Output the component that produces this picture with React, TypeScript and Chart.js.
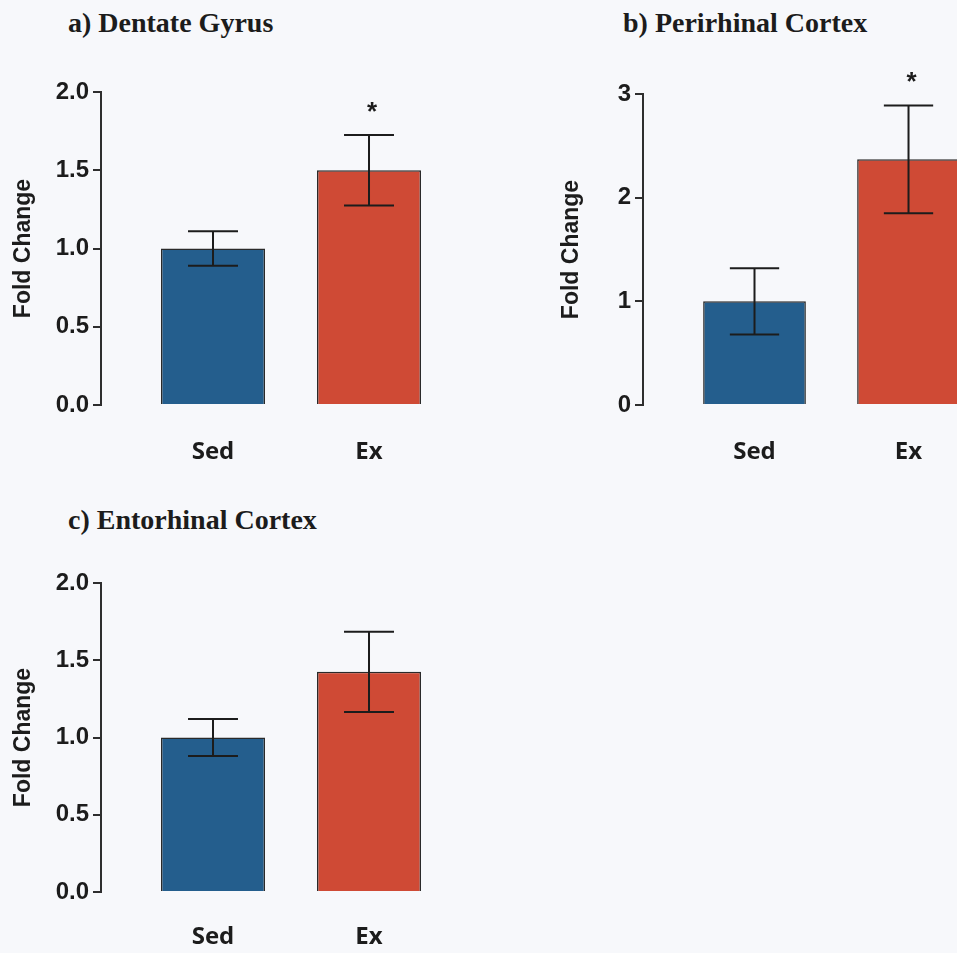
import React, { useEffect, useRef } from "react";
import { Chart, registerables } from "chart.js";

Chart.register(...registerables);

// ---- data ----
const categories = ["Sed", "Ex"];

const meansA = [1.0, 1.5];
const semA = [0.11, 0.225];
const sigA = [false, true];
const yTicksA = [0, 0.5, 1.0, 1.5, 2.0];
const yTickLabelsA = ["0.0", "0.5", "1.0", "1.5", "2.0"];

const meansB = [1.0, 2.37];
const semB = [0.32, 0.52];
const sigB = [false, true];
const yTicksB = [0, 1, 2, 3];
const yTickLabelsB = ["0", "1", "2", "3"];

const meansC = [1.0, 1.425];
const semC = [0.12, 0.26];
const sigC = [false, false];
const yTicksC = [0, 0.5, 1.0, 1.5, 2.0];
const yTickLabelsC = ["0.0", "0.5", "1.0", "1.5", "2.0"];

const titleA = "a) Dentate Gyrus";
const titleB = "b) Perirhinal Cortex";
const titleC = "c) Entorhinal Cortex";
const yAxisTitle = "Fold Change";

// ---- styles ----
const BLUE = "#245e8d";
const RED = "#cf4a35";
const INK = "#1c1c1c";
const BG = "#f7f8fb";

const errorBarPlugin = {
  id: "errorBars",
  afterDatasetsDraw(chart: any, _args: any, opts: any) {
    const { ctx, scales } = chart;
    const y = scales.y;
    const meta = chart.getDatasetMeta(0);
    const sem: number[] = opts.sem || [];
    const sig: boolean[] = opts.sig || [];
    const means: number[] = opts.means || [];
    ctx.save();
    ctx.strokeStyle = INK;
    ctx.lineWidth = 2;
    meta.data.forEach((bar: any, i: number) => {
      const x = bar.x;
      const hi = y.getPixelForValue(means[i] + sem[i]);
      const lo = y.getPixelForValue(means[i] - sem[i]);
      const half = bar.width * 0.24;
      ctx.beginPath();
      ctx.moveTo(x, hi);
      ctx.lineTo(x, lo);
      ctx.moveTo(x - half, hi);
      ctx.lineTo(x + half, hi);
      ctx.moveTo(x - half, lo);
      ctx.lineTo(x + half, lo);
      ctx.stroke();
      if (sig[i]) {
        ctx.fillStyle = INK;
        ctx.font = "bold 26px 'Liberation Sans', Arial, sans-serif";
        ctx.textAlign = "center";
        ctx.textBaseline = "alphabetic";
        ctx.fillText("*", x + 3, hi - 15);
      }
    });
    ctx.restore();
  },
};

type PanelProps = {
  means: number[];
  sem: number[];
  sig: boolean[];
  yTicks: number[];
  yTickLabels: string[];
  yMax: number;
  xMin: number;
  xMax: number;
  padTop: number;
  xHeight: number;
  yWidth: number;
  labelPad: number;
  style: React.CSSProperties;
};

function Panel(p: PanelProps) {
  const ref = useRef<HTMLCanvasElement | null>(null);
  useEffect(() => {
    if (!ref.current) return;
    const chart = new Chart(ref.current, {
      type: "bar",
      data: {
        datasets: [
          {
            data: p.means.map((v, i) => ({ x: i, y: v })) as any,
            backgroundColor: [BLUE, RED],
            borderColor: "#2a2a2a",
            borderWidth: 1.5,
            barPercentage: 0.667,
            categoryPercentage: 1,
          },
        ],
      },
      options: {
        animation: false,
        responsive: false,
        maintainAspectRatio: false,
        layout: { padding: { top: p.padTop, left: 0, right: 0, bottom: 0 } },
        plugins: {
          legend: { display: false },
          tooltip: { enabled: false },
          errorBars: { means: p.means, sem: p.sem, sig: p.sig },
        } as any,
        scales: {
          x: {
            type: "linear",
            min: p.xMin,
            max: p.xMax,
            offset: false,
            grid: { display: false, drawTicks: false },
            border: { display: false },
            afterBuildTicks: (s: any) => {
              s.ticks = categories.map((_, i) => ({ value: i }));
            },
            afterFit: (s: any) => {
              s.height = p.xHeight;
            },
            ticks: {
              autoSkip: false,
              maxRotation: 0,
              padding: p.labelPad,
              color: INK,
              font: { family: "'Open Sans', sans-serif", weight: "bold", size: 24 },
              callback: (v: any) => categories[Math.round(Number(v))] ?? "",
            },
          },
          y: {
            min: 0,
            max: p.yMax,
            afterBuildTicks: (s: any) => {
              s.ticks = p.yTicks.map((v) => ({ value: v }));
            },
            afterFit: (s: any) => {
              s.width = p.yWidth;
            },
            grid: {
              drawOnChartArea: false,
              drawTicks: true,
              tickLength: 8,
              color: "#2e2e2e",
              lineWidth: 2,
            },
            border: { display: true, color: "#2e2e2e", width: 2 },
            ticks: {
              padding: 4,
              color: INK,
              font: { family: "'Liberation Sans', Arial, sans-serif", weight: "bold", size: 24 },
              callback: (_v: any, i: number) => p.yTickLabels[i],
            },
            title: {
              display: true,
              text: yAxisTitle,
              color: INK,
              padding: { top: 10, bottom: 0 },
              font: { family: "'Liberation Sans', Arial, sans-serif", weight: "bold", size: 23 },
            },
          },
        },
      },
      plugins: [errorBarPlugin as any],
    });
    return () => chart.destroy();
  }, []);
  const w = p.style.width as number;
  const h = p.style.height as number;
  return (
    <canvas
      ref={ref}
      width={w}
      height={h}
      style={{ position: "absolute", ...p.style }}
    />
  );
}

const titleStyle: React.CSSProperties = {
  position: "absolute",
  fontFamily: "'Liberation Serif', 'Times New Roman', serif",
  fontWeight: "bold",
  fontSize: "28px",
  lineHeight: "32px",
  color: INK,
  whiteSpace: "nowrap",
};

export default function App() {
  return (
    <div
      style={{
        position: "absolute",
        left: 0,
        top: 0,
        width: 957,
        height: 953,
        overflow: "hidden",
        background: BG,
      }}
    >
      <div style={{ ...titleStyle, left: 68, top: 7 }}>{titleA}</div>
      <div style={{ ...titleStyle, left: 623, top: 7 }}>{titleB}</div>
      <div style={{ ...titleStyle, left: 68, top: 504 }}>{titleC}</div>
      <Panel
        means={meansA}
        sem={semA}
        sig={sigA}
        yTicks={yTicksA}
        yTickLabels={yTickLabelsA}
        yMax={2}
        xMin={-0.718}
        xMax={1.7115}
        padTop={92}
        xHeight={75}
        yWidth={101}
        labelPad={33}
        style={{ left: 0, top: 0, width: 480, height: 480 }}
      />
      <Panel
        means={meansB}
        sem={semB}
        sig={sigB}
        yTicks={yTicksB}
        yTickLabels={yTickLabelsB}
        yMax={3}
        xMin={-0.724}
        xMax={1.594}
        padTop={94}
        xHeight={75}
        yWidth={95}
        labelPad={33}
        style={{ left: 548, top: 0, width: 452, height: 480 }}
      />
      <Panel
        means={meansC}
        sem={semC}
        sig={sigC}
        yTicks={yTicksC}
        yTickLabels={yTickLabelsC}
        yMax={2}
        xMin={-0.718}
        xMax={1.7115}
        padTop={92}
        xHeight={61}
        yWidth={101}
        labelPad={31}
        style={{ left: 0, top: 491, width: 480, height: 462 }}
      />
    </div>
  );
}
